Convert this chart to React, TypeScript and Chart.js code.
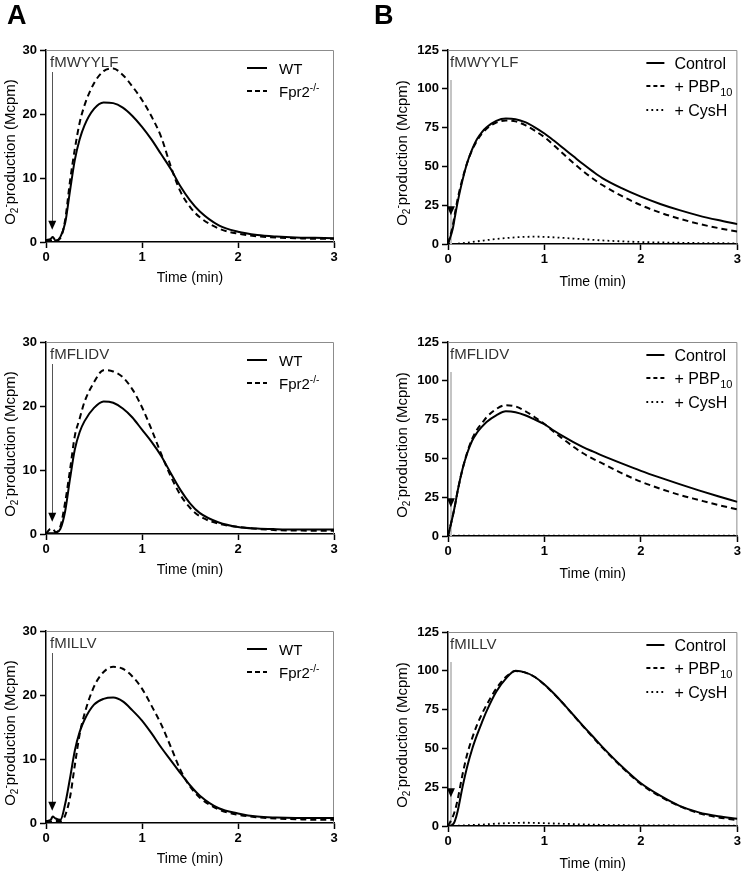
import React, { useEffect, useRef } from "react";
import { Chart, registerables } from "chart.js";
Chart.register(...registerables);

// ---------------- data ----------------
const TIME = [0, 0.05, 0.07, 0.1, 0.15, 0.2, 0.25, 0.3, 0.35, 0.4, 0.5, 0.6, 0.7, 0.8, 0.9, 1.0, 1.1, 1.2, 1.3, 1.4, 1.5, 1.6, 1.8, 2.0, 2.2, 2.4, 2.6, 2.8, 3.0];

const X_TICKS = [0, 1, 2, 3];
const A_Y_TICKS = [0, 10, 20, 30];
const B_Y_TICKS = [0, 25, 50, 75, 100, 125];

const A_LEGEND = ["WT", "Fpr2"];
const B_LEGEND = ["Control", "+ PBP", "+ CysH"];
const STIMULI = ["fMWYYLF", "fMFLIDV", "fMILLV"];

// Panel A (WT vs Fpr2-/-)
const A1_WT = [0.3, 0.5, 0.8, 0.2, 0.8, 3.0, 8.0, 12.8, 16.0, 18.2, 20.8, 21.8, 21.7, 21.0, 19.7, 18.0, 16.0, 13.7, 11.4, 8.7, 6.5, 4.8, 2.6, 1.6, 1.1, 0.85, 0.7, 0.65, 0.6];
const A1_FPR2 = [0.2, 0.2, 0.2, 0.2, 0.6, 3.5, 9.5, 14.5, 18.6, 21.3, 24.8, 26.7, 27.1, 26.1, 24.3, 22.2, 19.6, 16.4, 11.8, 7.9, 5.5, 3.9, 2.1, 1.3, 0.9, 0.7, 0.6, 0.5, 0.5];

const A2_WT = [0.1, 0.1, 0.1, 0.2, 0.8, 3.6, 8.6, 13.2, 15.9, 17.6, 19.7, 20.7, 20.5, 19.6, 18.2, 16.3, 14.4, 12.2, 9.5, 6.9, 4.8, 3.3, 1.8, 1.1, 0.85, 0.75, 0.7, 0.7, 0.7];
const A2_FPR2 = [0.1, 0.8, 0.8, 0.3, 1.2, 5.0, 10.0, 15.3, 18.0, 20.6, 23.7, 25.6, 25.4, 24.5, 22.6, 19.8, 16.3, 12.5, 9.0, 6.1, 4.1, 2.8, 1.6, 1.1, 0.8, 0.6, 0.55, 0.5, 0.5];

const A3_WT = [0.3, 0.5, 1.0, 0.7, 0.5, 3.0, 7.0, 11.3, 14.2, 16.1, 18.5, 19.4, 19.6, 19.0, 17.6, 16.0, 14.0, 11.8, 9.8, 7.8, 5.9, 4.3, 2.3, 1.5, 1.0, 0.85, 0.8, 0.8, 0.8];
const A3_FPR2 = [0.1, 0.2, 0.3, 0.3, 0.3, 1.2, 4.0, 9.0, 13.8, 17.0, 21.3, 23.6, 24.4, 24.1, 22.9, 21.0, 18.3, 15.4, 11.9, 8.3, 5.7, 4.0, 2.1, 1.3, 0.9, 0.7, 0.6, 0.5, 0.5];

// Panel B (Control, + PBP10, + CysH)
const B1_CONTROL = [0, 10, 17, 27, 41, 52.5, 61, 67.5, 72, 75.2, 79.3, 80.8, 80.4, 78.5, 75.2, 71.2, 66.5, 61.5, 56.5, 51.5, 46.8, 42.5, 36.0, 30.5, 25.8, 21.8, 18.3, 15.4, 12.8];
const B1_PBP10 = [0, 12, 19, 29, 42, 52.5, 60.5, 66.5, 71, 74.3, 78.2, 79.6, 79.0, 76.6, 73.0, 68.8, 63.5, 57.8, 52.2, 47.0, 42.2, 38.0, 31.0, 25.0, 20.2, 16.3, 13.0, 10.3, 8.0];
const B1_CYSH = [0, 0, 0.1, 0.2, 0.5, 0.9, 1.3, 1.7, 2.1, 2.5, 3.2, 3.8, 4.3, 4.6, 4.7, 4.6, 4.3, 3.9, 3.5, 3.1, 2.7, 2.3, 1.7, 1.3, 1.0, 0.8, 0.6, 0.5, 0.4];

const B2_CONTROL = [0, 13, 19, 29, 43, 53.5, 61.4, 66.5, 70.3, 73.5, 77.8, 80.4, 79.8, 77.8, 75.0, 72.0, 67.8, 64.0, 60.5, 57.3, 54.5, 51.8, 46.8, 42.0, 37.6, 33.4, 29.4, 25.6, 22.0];
const B2_PBP10 = [0, 13, 19, 29, 43, 54, 62.5, 68.5, 72.5, 76.5, 81.8, 84.3, 83.5, 80.5, 76.5, 72.2, 67.0, 62.2, 57.5, 53.3, 49.8, 46.8, 40.5, 35.0, 30.5, 26.5, 23.2, 20.0, 17.2];
const B2_CYSH = [0, 0.2, 0.2, 0.3, 0.3, 0.3, 0.3, 0.3, 0.3, 0.3, 0.3, 0.3, 0.3, 0.3, 0.3, 0.3, 0.3, 0.3, 0.3, 0.3, 0.3, 0.3, 0.3, 0.3, 0.3, 0.3, 0.3, 0.3, 0.3];

const B3_CONTROL = [0, 1.0, 3.0, 9.5, 25, 38.5, 49.5, 58.5, 66.5, 74, 86.5, 95, 100, 99.0, 96, 91.2, 85.2, 78.5, 71.5, 64.5, 57.8, 51, 38.5, 27.5, 19.5, 13.0, 8.8, 6.3, 4.7];
const B3_PBP10 = [0, 6.0, 9.5, 17, 33, 46.5, 56.5, 65, 72, 78, 88.5, 96, 99.8, 98.8, 96.0, 91.0, 85.0, 78.5, 71.3, 64.2, 57.3, 50.5, 38.0, 27.0, 19.0, 12.8, 8.3, 5.6, 3.8];
const B3_CYSH = [0, 0.1, 0.1, 0.2, 0.3, 0.5, 0.6, 0.8, 0.9, 1.1, 1.5, 1.8, 2.0, 2.1, 2.0, 1.8, 1.6, 1.4, 1.2, 1.0, 0.9, 0.7, 0.5, 0.4, 0.4, 0.3, 0.3, 0.3, 0.3];

// ---------------- styling / layout ----------------
const FONT = "'Liberation Sans', Arial, Helvetica, sans-serif";

type Kind = "A" | "B";
type LineStyle = "solid" | "dash" | "dot";
type SeriesDef = { label: string; values: number[]; style: LineStyle };
type PanelDef = { kind: Kind; top: number; letter?: string; stim: string; series: SeriesDef[] };

const GEOM = {
  A: { left: 0, w: 372, h: 290, plotLeft: 46, plotRight: 334, plotTop: 50, plotH: 192 },
  B: { left: 372, w: 371, h: 290, plotLeft: 76, plotRight: 366, plotTop: 50, plotH: 194 },
};

const STYLE: Record<LineStyle, { dash: number[]; width: number }> = {
  solid: { dash: [], width: 2 },
  dash: { dash: [6, 4], width: 2 },
  dot: { dash: [1.8, 3.2], width: 1.8 },
};

const PANELS: PanelDef[] = [
  { kind: "A", top: 0, letter: "A", stim: STIMULI[0], series: [
    { label: A_LEGEND[0], values: A1_WT, style: "solid" },
    { label: A_LEGEND[1], values: A1_FPR2, style: "dash" } ] },
  { kind: "B", top: 0, letter: "B", stim: STIMULI[0], series: [
    { label: B_LEGEND[0], values: B1_CONTROL, style: "solid" },
    { label: B_LEGEND[1], values: B1_PBP10, style: "dash" },
    { label: B_LEGEND[2], values: B1_CYSH, style: "dot" } ] },
  { kind: "A", top: 292, stim: STIMULI[1], series: [
    { label: A_LEGEND[0], values: A2_WT, style: "solid" },
    { label: A_LEGEND[1], values: A2_FPR2, style: "dash" } ] },
  { kind: "B", top: 292, stim: STIMULI[1], series: [
    { label: B_LEGEND[0], values: B2_CONTROL, style: "solid" },
    { label: B_LEGEND[1], values: B2_PBP10, style: "dash" },
    { label: B_LEGEND[2], values: B2_CYSH, style: "dot" } ] },
  { kind: "A", top: 581, stim: STIMULI[2], series: [
    { label: A_LEGEND[0], values: A3_WT, style: "solid" },
    { label: A_LEGEND[1], values: A3_FPR2, style: "dash" } ] },
  { kind: "B", top: 582, stim: STIMULI[2], series: [
    { label: B_LEGEND[0], values: B3_CONTROL, style: "solid" },
    { label: B_LEGEND[1], values: B3_PBP10, style: "dash" },
    { label: B_LEGEND[2], values: B3_CYSH, style: "dot" } ] },
];

type Seg = { t: string; size: number; dy?: number; bold?: boolean };

function setFont(ctx: CanvasRenderingContext2D, s: Seg) {
  ctx.font = `${s.bold ? "bold " : ""}${s.size}px ${FONT}`;
}
function segsWidth(ctx: CanvasRenderingContext2D, segs: Seg[]) {
  let w = 0;
  for (const s of segs) { setFont(ctx, s); w += ctx.measureText(s.t).width; }
  return w;
}
function drawSegs(ctx: CanvasRenderingContext2D, segs: Seg[], x: number, y: number) {
  let cx = x;
  ctx.textAlign = "left";
  ctx.textBaseline = "alphabetic";
  for (const s of segs) {
    setFont(ctx, s);
    ctx.fillText(s.t, cx, y + (s.dy || 0));
    cx += ctx.measureText(s.t).width;
  }
}

function legendSegs(kind: Kind, label: string): Seg[] {
  if (kind === "A") {
    if (label === "Fpr2") return [{ t: "Fpr2", size: 15 }, { t: "-/-", size: 10, dy: -6 }];
    return [{ t: label, size: 15 }];
  }
  if (label === "+ PBP") return [{ t: "+ PBP", size: 16 }, { t: "10", size: 11, dy: 4 }];
  return [{ t: label, size: 16 }];
}

function Panel({ def }: { def: PanelDef }) {
  const ref = useRef<HTMLCanvasElement>(null);
  const g = GEOM[def.kind];

  useEffect(() => {
    const canvas = ref.current;
    if (!canvas) return;
    const isA = def.kind === "A";
    const yTicks = isA ? A_Y_TICKS : B_Y_TICKS;
    const stimT = isA ? 0.065 : 0.03;
    const tipVal = isA ? 1.9 : 18.5;

    const decor = {
      id: "decor",
      beforeDatasetsDraw(chart: any) {
        const { ctx, chartArea: a, scales } = chart;
        ctx.save();
        ctx.strokeStyle = "#8c8c8c";
        ctx.lineWidth = 1;
        ctx.setLineDash([]);
        ctx.beginPath();
        ctx.moveTo(a.left, a.top + 0.5);
        ctx.lineTo(a.right - 0.5, a.top + 0.5);
        ctx.lineTo(a.right - 0.5, a.bottom);
        ctx.stroke();
        const tip = scales.y.getPixelForValue(tipVal);
        if (isA) {
          const sx = Math.round(scales.x.getPixelForValue(stimT)) + 0.5;
          ctx.strokeStyle = "#555";
          ctx.lineWidth = 1;
          ctx.beginPath();
          ctx.moveTo(sx, a.top + 22);
          ctx.lineTo(sx, tip - 8);
          ctx.stroke();
        } else {
          const sx = Math.round(scales.x.getPixelForValue(stimT));
          ctx.strokeStyle = "#c4c4c4";
          ctx.lineWidth = 2;
          ctx.beginPath();
          ctx.moveTo(sx, a.top + 30);
          ctx.lineTo(sx, a.bottom);
          ctx.stroke();
        }
        ctx.restore();
      },
      afterDraw(chart: any) {
        const { ctx, chartArea: a, scales } = chart;
        ctx.save();
        ctx.fillStyle = "#000";
        const sx = scales.x.getPixelForValue(stimT);
        const tip = scales.y.getPixelForValue(tipVal);
        ctx.beginPath();
        ctx.moveTo(sx - 4, tip - 9);
        ctx.lineTo(sx + 4, tip - 9);
        ctx.lineTo(sx, tip);
        ctx.closePath();
        ctx.fill();
        ctx.fillStyle = "#333";
        drawSegs(ctx, [{ t: def.stim, size: 15 }], a.left + (isA ? 4 : 2), a.top + 17);
        ctx.fillStyle = "#000";
        const rows = isA ? [18, 41] : [13, 36, 60];
        const s0 = isA ? 87 : 91;
        const s1 = isA ? 67 : 73;
        const tx = isA ? 55 : 63;
        def.series.forEach((s, i) => {
          const yc = a.top + rows[i];
          const st = STYLE[s.style];
          ctx.strokeStyle = "#000";
          ctx.lineWidth = st.width;
          ctx.setLineDash(s.style === "dash" ? (isA ? [5, 3] : [4, 3]) : st.dash);
          ctx.beginPath();
          ctx.moveTo(a.right - s0, yc);
          ctx.lineTo(a.right - s1, yc);
          ctx.stroke();
          ctx.setLineDash([]);
          drawSegs(ctx, legendSegs(def.kind, s.label), a.right - tx, yc + 5.5);
        });
        ctx.fillStyle = "#000";
        ctx.font = `14px ${FONT}`;
        ctx.textAlign = "center";
        ctx.textBaseline = "middle";
        ctx.fillText("Time (min)", (a.left + a.right) / 2, a.bottom + (isA ? 36 : 38));
        const ySegs: Seg[] = [
          { t: "O", size: 15 },
          { t: "2", size: 10, dy: 3 },
          { t: "-", size: 10, dy: -6 },
          { t: "production (Mcpm)", size: 15 },
        ];
        const w = segsWidth(ctx, ySegs);
        ctx.translate(isA ? 10 : 30, (a.top + a.bottom) / 2 + 6);
        ctx.rotate(-Math.PI / 2);
        drawSegs(ctx, ySegs, -w / 2, 5);
        ctx.restore();
        if (def.letter) {
          ctx.save();
          ctx.fillStyle = "#000";
          ctx.font = `bold 27px ${FONT}`;
          ctx.textAlign = "left";
          ctx.textBaseline = "alphabetic";
          ctx.fillText(def.letter, isA ? 7 : 2, 24);
          ctx.restore();
        }
      },
    };

    const chart = new Chart(canvas, {
      type: "line",
      data: {
        datasets: def.series.map((s) => ({
          label: s.label,
          data: TIME.map((t, i) => ({ x: t, y: s.values[i] })),
          borderColor: "#000",
          backgroundColor: "#000",
          borderWidth: STYLE[s.style].width,
          borderDash: STYLE[s.style].dash,
          pointRadius: 0,
          fill: false,
          cubicInterpolationMode: "monotone" as const,
        })),
      },
      options: {
        animation: false,
        responsive: false,
        devicePixelRatio: 1,
        events: [],
        layout: { padding: { left: 0, top: g.plotTop, right: g.w - g.plotRight, bottom: 0 } },
        plugins: { legend: { display: false }, tooltip: { enabled: false } },
        scales: {
          x: {
            type: "linear",
            min: X_TICKS[0],
            max: X_TICKS[X_TICKS.length - 1],
            afterBuildTicks: (sc: any) => { sc.ticks = X_TICKS.map((v) => ({ value: v })); },
            afterFit: (sc: any) => { sc.height = g.h - g.plotTop - g.plotH; },
            ticks: { color: "#000", font: { family: FONT, size: 13, weight: "bold" }, padding: 2, maxRotation: 0, autoSkip: false },
            grid: { display: true, drawOnChartArea: false, drawTicks: true, tickLength: 6, tickColor: "#000", tickWidth: 1.5 },
            border: { display: true, color: "#000", width: 1.5 },
          },
          y: {
            type: "linear",
            min: yTicks[0],
            max: yTicks[yTicks.length - 1],
            afterBuildTicks: (sc: any) => { sc.ticks = yTicks.map((v) => ({ value: v })); },
            afterFit: (sc: any) => { sc.width = g.plotLeft; },
            ticks: { color: "#000", font: { family: FONT, size: 13, weight: "bold" }, padding: 3, autoSkip: false },
            grid: { display: true, drawOnChartArea: false, drawTicks: true, tickLength: 6, tickColor: "#000", tickWidth: 1.5 },
            border: { display: true, color: "#000", width: 1.5 },
          },
        },
      } as any,
      plugins: [decor],
    });
    return () => chart.destroy();
  }, [def]);

  return (
    <canvas
      ref={ref}
      width={g.w}
      height={g.h}
      style={{ position: "absolute", left: g.left, top: def.top, width: g.w, height: g.h }}
    />
  );
}

export default function App() {
  return (
    <div style={{ position: "absolute", left: 0, top: 0, width: 743, height: 872, background: "#fff", overflow: "hidden" }}>
      {PANELS.map((p, i) => (
        <Panel key={i} def={p} />
      ))}
    </div>
  );
}
